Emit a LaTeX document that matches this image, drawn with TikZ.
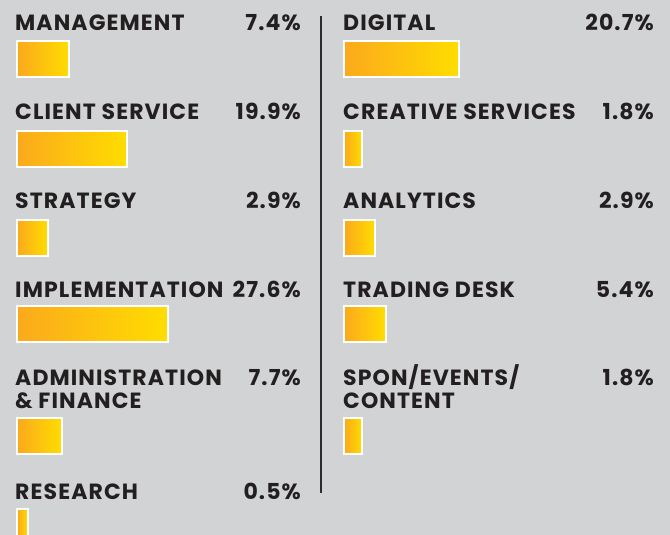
\documentclass[tikz,border=0pt]{standalone}
\usepackage{fontspec}
\setmainfont{Poppins}[LetterSpace=5]
\definecolor{bg}{HTML}{D1D3D4}
\definecolor{ink}{HTML}{231F20}
\definecolor{barL}{HTML}{FBA91C}
\definecolor{barR}{HTML}{FFDD00}
\definecolor{rule}{HTML}{2E2B2C}
\tikzset{
  lbl/.style={anchor=base west, inner sep=0pt, text=ink, font=\fontsize{22}{26}\selectfont\bfseries},
  pct/.style={anchor=base east, inner sep=0pt, text=ink, font=\fontsize{22}{26}\selectfont\bfseries},
  barbox/.style={anchor=north west, inner sep=0pt, draw=white, line width=2pt,
    left color=barL, right color=barR, minimum height=36pt},
}
\begin{document}
\begin{tikzpicture}[x=1pt,y=-1pt]
\clip (0,0) rectangle (670,535);
\fill[bg] (0,0) rectangle (670,535);
% divider
\coordinate (dtop) at (321,16);
\coordinate (dbot) at (321,493);
\draw[rule, line width=2pt] (dtop) -- (dbot);
% left column
\node[lbl] (l1) at (15,30.5) {MANAGEMENT};
\node[pct] (p1) at (301,30.5) {7.4\%};
\node[barbox, minimum width=52pt] (b1) at (16,40) {};
\node[lbl] (l2) at (15,119) {CLIENT SERVICE};
\node[pct] (p2) at (301,119) {19.9\%};
\node[barbox, minimum width=110pt] (b2) at (16,130) {};
\node[lbl] (l3) at (15,208) {STRATEGY};
\node[pct] (p3) at (301,208) {2.9\%};
\node[barbox, minimum width=31pt] (b3) at (16,219) {};
\node[lbl] (l4) at (15,297) {IMPLEMENTATION};
\node[pct] (p4) at (301,297) {27.6\%};
\node[barbox, minimum width=151pt] (b4) at (16,305) {};
\node[lbl] (l5) at (15,385) {ADMINISTRATION};
\node[lbl] (l5b) at (15,408) {\& FINANCE};
\node[pct] (p5) at (301,385) {7.7\%};
\node[barbox, minimum width=45pt] (b5) at (16,417) {};
\node[lbl] (l6) at (15,499) {RESEARCH};
\node[pct] (p6) at (301,499) {0.5\%};
\node[barbox, minimum width=11pt] (b6) at (16,508) {};
% right column
\node[lbl] (r1) at (343,30.5) {DIGITAL};
\node[pct] (q1) at (654,30.5) {20.7\%};
\node[barbox, minimum width=115pt] (c1) at (343,40) {};
\node[lbl] (r2) at (343,119) {CREATIVE SERVICES};
\node[pct] (q2) at (654,119) {1.8\%};
\node[barbox, minimum width=18pt] (c2) at (343,130) {};
\node[lbl] (r3) at (343,208) {ANALYTICS};
\node[pct] (q3) at (654,208) {2.9\%};
\node[barbox, minimum width=31pt] (c3) at (343,219) {};
\node[lbl] (r4) at (343,297) {TRADING DESK};
\node[pct] (q4) at (654,297) {5.4\%};
\node[barbox, minimum width=42pt] (c4) at (343,305) {};
\node[lbl] (r5) at (343,385) {SPON/EVENTS/};
\node[lbl] (r5b) at (343,408) {CONTENT};
\node[pct] (q5) at (654,385) {1.8\%};
\node[barbox, minimum width=18pt] (c5) at (343,417) {};
\end{tikzpicture}
\end{document}
